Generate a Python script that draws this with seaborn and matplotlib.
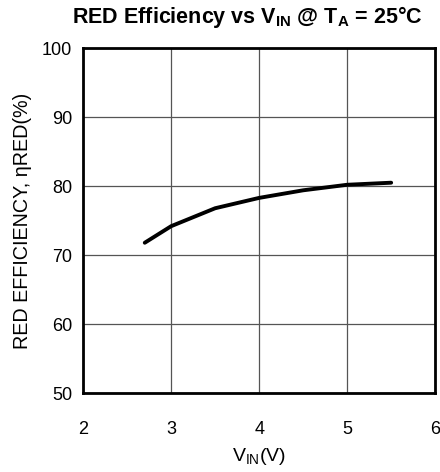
import matplotlib
matplotlib.use("Agg")
import matplotlib.pyplot as plt
import seaborn as sns
import pandas as pd

# values
vin = [2.7, 3.0, 3.5, 4.0, 4.5, 5.0, 5.5]
eff = [71.8, 74.2, 76.8, 78.3, 79.4, 80.2, 80.5]
x_ticks = [2, 3, 4, 5, 6]
y_ticks = [50, 60, 70, 80, 90, 100]

df = pd.DataFrame({"VIN": vin, "EFF": eff})

sns.set_theme(style="white")
plt.rcParams['font.family'] = ['Liberation Sans', 'DejaVu Sans']
plt.rcParams['mathtext.fontset'] = 'custom'
plt.rcParams['mathtext.rm'] = 'Liberation Sans'
plt.rcParams['mathtext.bf'] = 'Liberation Sans:bold'

fig = plt.figure(figsize=(4.4, 4.72), dpi=100)
ax = fig.add_axes([0.189, 0.167, 0.800, 0.731])

sns.lineplot(data=df, x="VIN", y="EFF", ax=ax, color="black", linewidth=2.8)

ax.set_xlim(2, 6)
ax.set_ylim(50, 100)
ax.set_xticks(x_ticks)
ax.set_yticks(y_ticks)
ax.grid(True, color="#555555", linewidth=0.9)
for s in ax.spines.values():
    s.set_color("black")
    s.set_linewidth(2)
ax.tick_params(axis="both", labelsize=13, length=0, colors="black")
ax.tick_params(axis="x", pad=20)
ax.tick_params(axis="y", pad=8)

ax.set_xlabel(r"V$_{\mathrm{IN}}$(V)", fontsize=14, color="black", labelpad=6)
ax.set_ylabel("RED EFFICIENCY, ηRED(%)", fontsize=14.2, color="black", labelpad=7)
ax.set_title(r"RED Efficiency vs V$_{\mathbf{IN}}$ @ T$_{\mathbf{A}}$ = 25°C",
             fontsize=15.5, fontweight="bold", color="black", pad=18, x=0.466)

fig.savefig("out.png", dpi=100)
